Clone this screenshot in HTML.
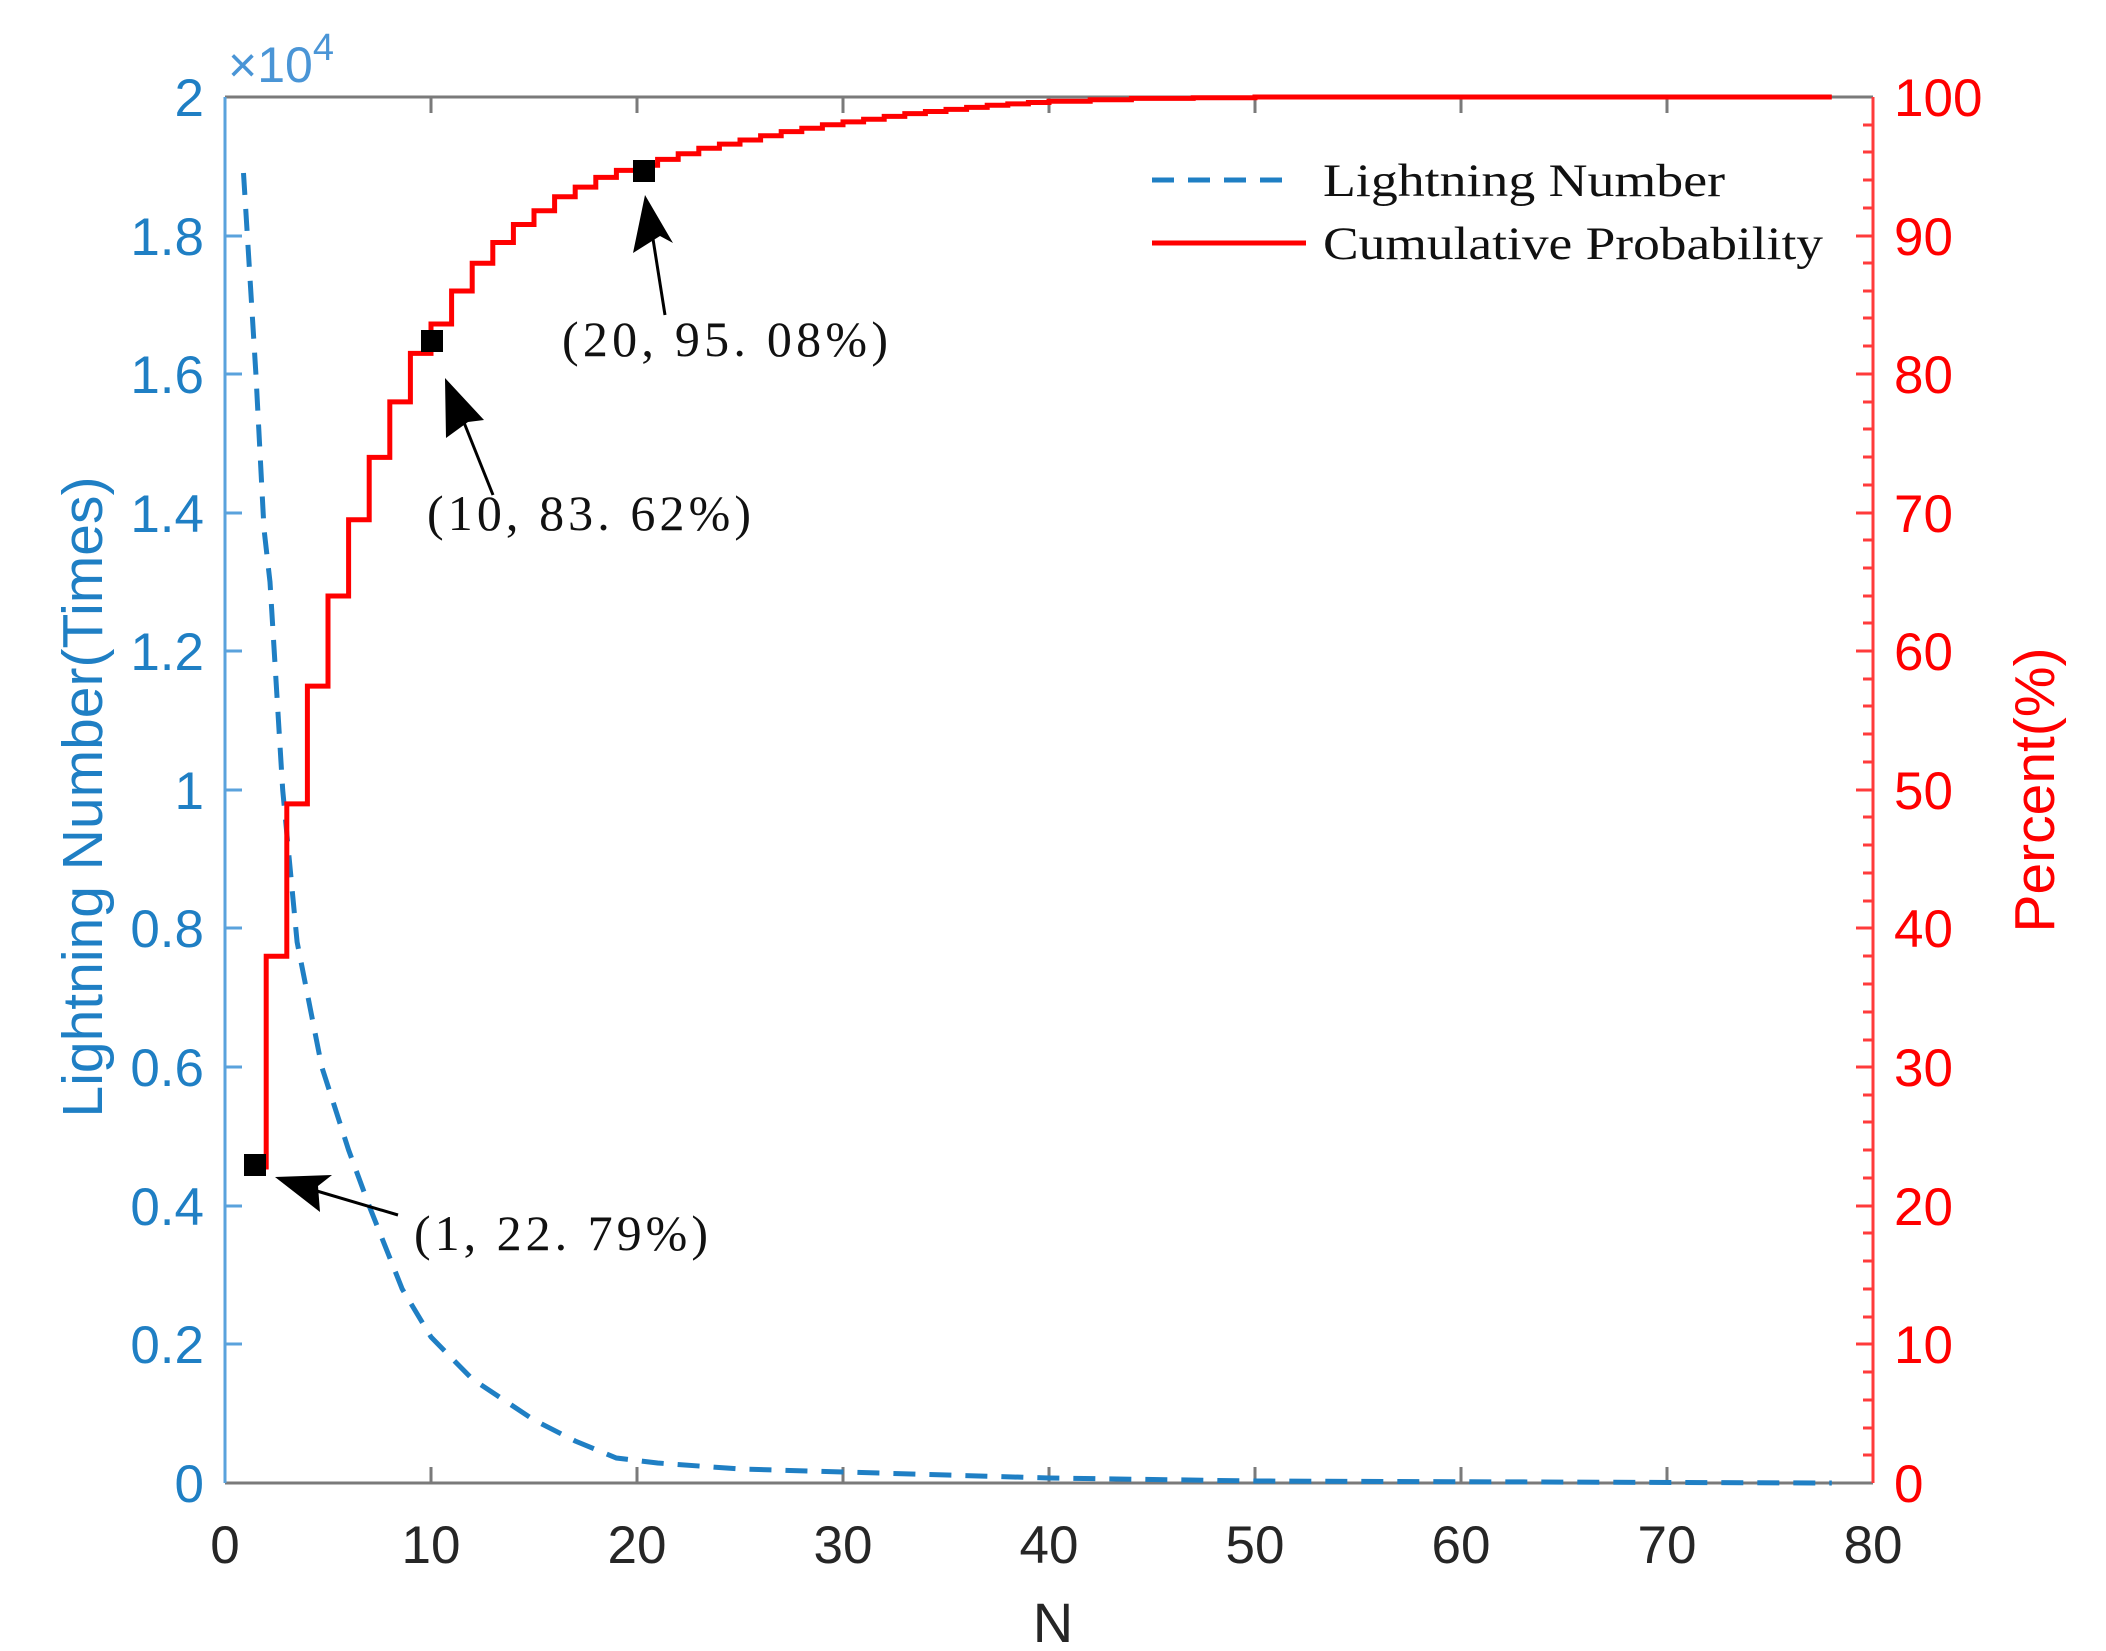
<!DOCTYPE html>
<html><head><meta charset="utf-8"><style>html,body{margin:0;padding:0;background:#fff;}svg{display:block}</style></head>
<body>
<svg width="2106" height="1651" viewBox="0 0 2106 1651" xmlns="http://www.w3.org/2000/svg" font-family="Liberation Sans, Arial, sans-serif">
<rect width="2106" height="1651" fill="#fff"/>
<g stroke="#7a7a7a" stroke-width="3" fill="none">
<line x1="225" y1="97" x2="1873" y2="97"/>
<line x1="225" y1="1483" x2="1873" y2="1483"/>
<path d="M431 97v16M637 97v16M843 97v16M1049 97v16M1255 97v16M1461 97v16M1667 97v16"/>
<path d="M431 1483v-16M637 1483v-16M843 1483v-16M1049 1483v-16M1255 1483v-16M1461 1483v-16M1667 1483v-16"/>
</g>
<g stroke="#5aa2dc" stroke-width="3">
<line x1="225" y1="97" x2="225" y2="1483"/>
<path d="M225 1344h17M225 1206h17M225 1067h17M225 928h17M225 790h17M225 651h17M225 513h17M225 374h17M225 236h17"/>
</g>
<g stroke="#ff3b3b" stroke-width="3">
<line x1="1873" y1="97" x2="1873" y2="1483"/>
<path d="M1873 1344h-17M1873 1206h-17M1873 1067h-17M1873 928h-17M1873 790h-17M1873 651h-17M1873 513h-17M1873 374h-17M1873 236h-17"/>
<path d="M1873 1455h-10M1873 1428h-10M1873 1400h-10M1873 1372h-10M1873 1317h-10M1873 1289h-10M1873 1261h-10M1873 1233h-10M1873 1178h-10M1873 1150h-10M1873 1122h-10M1873 1095h-10M1873 1040h-10M1873 1012h-10M1873 984h-10M1873 956h-10M1873 901h-10M1873 873h-10M1873 845h-10M1873 817h-10M1873 762h-10M1873 734h-10M1873 706h-10M1873 679h-10M1873 623h-10M1873 596h-10M1873 568h-10M1873 540h-10M1873 485h-10M1873 457h-10M1873 429h-10M1873 402h-10M1873 346h-10M1873 318h-10M1873 291h-10M1873 263h-10M1873 208h-10M1873 180h-10M1873 152h-10M1873 125h-10"/>
</g>
<g fill="#1f7fc4" font-size="53" text-anchor="end">
<text x="204" y="1502">0</text><text x="204" y="1363">0.2</text><text x="204" y="1225">0.4</text><text x="204" y="1086">0.6</text><text x="204" y="947">0.8</text><text x="204" y="809">1</text><text x="204" y="670">1.2</text><text x="204" y="532">1.4</text><text x="204" y="393">1.6</text><text x="204" y="255">1.8</text><text x="204" y="116">2</text>
</g>
<text x="228" y="82" fill="#4a95d6" font-size="50">×10<tspan font-size="38" dy="-22">4</tspan></text>
<g fill="#ff0000" font-size="53">
<text x="1894" y="1502">0</text><text x="1894" y="1363">10</text><text x="1894" y="1225">20</text><text x="1894" y="1086">30</text><text x="1894" y="947">40</text><text x="1894" y="809">50</text><text x="1894" y="670">60</text><text x="1894" y="532">70</text><text x="1894" y="393">80</text><text x="1894" y="255">90</text><text x="1894" y="116">100</text>
</g>
<g fill="#262626" font-size="53" text-anchor="middle">
<text x="225" y="1563">0</text><text x="431" y="1563">10</text><text x="637" y="1563">20</text><text x="843" y="1563">30</text><text x="1049" y="1563">40</text><text x="1255" y="1563">50</text><text x="1461" y="1563">60</text><text x="1667" y="1563">70</text><text x="1873" y="1563">80</text>
<text x="1053" y="1642" font-size="56">N</text>
</g>
<text transform="translate(102,797) rotate(-90)" text-anchor="middle" fill="#1f7fc4" font-size="57">Lightning Number(Times)</text>
<text transform="translate(2054,790) rotate(-90)" text-anchor="middle" fill="#ff0000" font-size="57">Percent(%)</text>
<polyline fill="none" stroke="#1f7fc4" stroke-width="5" stroke-dasharray="22 14" points="243.5,173 255.9,374 264,529 270,582 282.7,790 297.1,942 321.8,1067 348.6,1150 369.2,1206 402.2,1289 431,1337 472.2,1379 534,1420 575.2,1441 616.4,1458 657.6,1463 740,1469 843,1472 1049,1478 1255,1481 1831.8,1483"/>
<path fill="none" stroke="#ff0000" stroke-width="5" d="M255.9 1167H266.2V956.3H286.8V803.9H307.4V686.1H328V596H348.6V519.7H369.2V457.4H389.8V401.9H410.4V353.4H431V324H451.6V291H472.2V263.3H492.8V242.5H513.4V224.5H534V210.7H554.6V196.8H575.2V187.1H595.8V177.4H616.4V170.4H637V165.2H657.6V159.4H678.2V153.8H698.8V148.3H719.4V144.1H740V140H760.6V135.8H781.2V131.6H801.8V128.2H822.4V124.7H843V121.9H863.6V119.2H884.2V116.4H904.8V113.6H925.4V111.5H946V109.4H966.6V107.4H987.2V105.3H1007.8V103.9H1028.4V102.5H1049V101.2H1090.2V99.8H1131.4V98.4H1193.2V97.7H1255V97H1831.8"/>
<g fill="#000">
<rect x="244" y="1154" width="22" height="22"/>
<rect x="421" y="330" width="22" height="22"/>
<rect x="633" y="160" width="22" height="22"/>
</g>
<g stroke="#000" stroke-width="3">
<line x1="398" y1="1215" x2="300" y2="1186"/>
<line x1="493" y1="495" x2="455" y2="400"/>
<line x1="665" y1="315" x2="650" y2="220"/>
</g>
<g fill="#000">
<polygon points="275,1177 332,1175 318,1186 320,1212"/>
<polygon points="445,378 484,420 468,422 446,438"/>
<polygon points="645,195 673,243 660,236 633,253"/>
</g>
<g fill="#111" font-family="Liberation Serif, serif" font-size="50">
<text x="414" y="1250" textLength="294" lengthAdjust="spacing">(1, 22. 79%)</text>
<text x="427" y="530" textLength="324" lengthAdjust="spacing">(10, 83. 62%)</text>
<text x="562" y="356" textLength="326" lengthAdjust="spacing">(20, 95. 08%)</text>
</g>
<line x1="1152" y1="180" x2="1296" y2="180" stroke="#1f7fc4" stroke-width="5" stroke-dasharray="22 14"/>
<line x1="1152" y1="243" x2="1306" y2="243" stroke="#ff0000" stroke-width="5"/>
<g fill="#111" font-family="Liberation Serif, serif" font-size="47">
<text x="1323" y="196" textLength="402" lengthAdjust="spacingAndGlyphs">Lightning Number</text>
<text x="1323" y="259" textLength="500" lengthAdjust="spacingAndGlyphs">Cumulative Probability</text>
</g>
</svg>
</body></html>
